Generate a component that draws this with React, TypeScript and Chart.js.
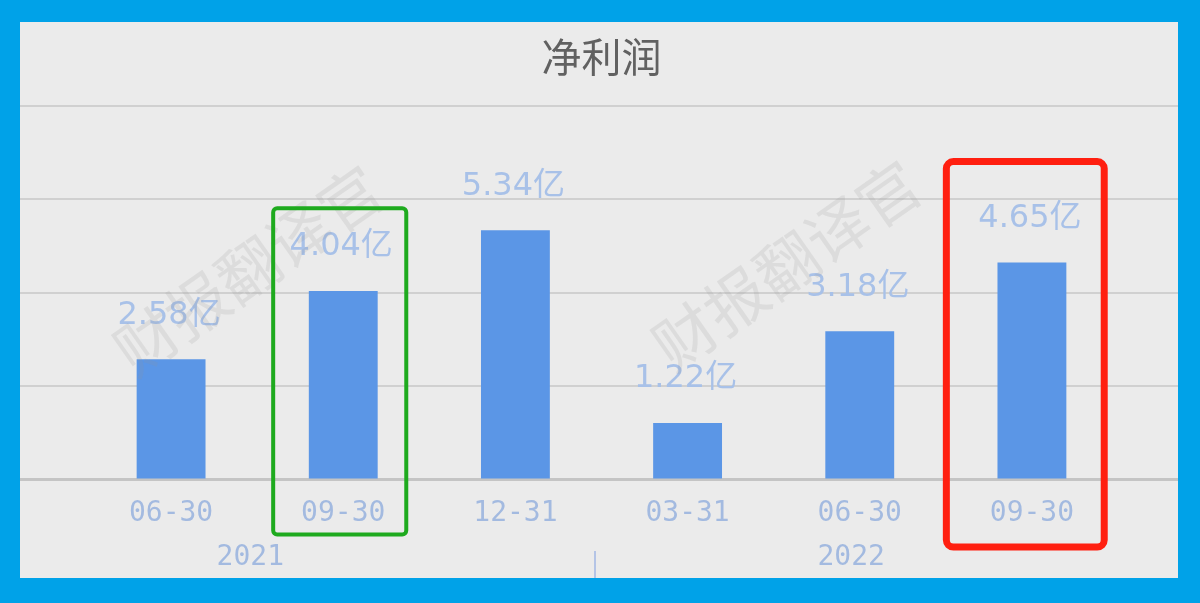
import React, { useEffect, useRef } from "react";
import { Chart, registerables } from "chart.js";

Chart.register(...registerables);

// ---- data ----
const categories = ["06-30", "09-30", "12-31", "03-31", "06-30", "09-30"];
const netProfit = [2.58, 4.04, 5.34, 1.22, 3.18, 4.65]; // 单位：亿
const unit = "亿";
const yearLabels = ["2021", "2022"];
const yearAnchors = [0.46, 3.95]; // category-index anchors for the year row
const yearDivider = 2.46;
const chartTitle = "净利润";
const watermarkText = "财报翻译官";
const yMin = 0;
const yMax = 8;
const yStep = 2;

// ---- styles ----
const FRAME = "#00a2e8";
const PANEL = "#ebebeb";
const BAR = "#5b96e6";
const LABEL = "#a8c1e8";
const TICK = "#a3bae0";
const GRID = "#d0d0d0";
const BASE = "#c4c4c4";

const highlights = [
  { index: 1, color: "#1eaa1e", lw: 4, left: -0.407, right: 0.366, top: 5.81, bottom: -1.17, r: 4 },
  { index: 5, color: "#ff1f10", lw: 7, left: -0.497, right: 0.42, top: 6.81, bottom: -1.435, r: 7 },
];

const overlayPlugin = {
  id: "overlay",
  afterDatasetsDraw(chart: any) {
    const { ctx, chartArea } = chart;
    const xs = chart.scales.x;
    const meta = chart.getDatasetMeta(0);
    ctx.save();
    // value labels
    ctx.font = '32px "DejaVu Sans", "Noto Sans CJK SC"';
    ctx.fillStyle = LABEL;
    ctx.textAlign = "center";
    ctx.textBaseline = "middle";
    meta.data.forEach((bar: any, i: number) => {
      ctx.fillText(netProfit[i].toFixed(2) + unit, bar.x - 2, bar.y - 44);
    });
    // year row
    ctx.font = '28px "DejaVu Sans Mono"';
    ctx.fillStyle = TICK;
    yearLabels.forEach((t, i) => {
      ctx.fillText(t, xs.getPixelForValue(yearAnchors[i]), chartArea.bottom + 78);
    });
    // divider
    const dx = Math.round(xs.getPixelForValue(yearDivider));
    ctx.strokeStyle = "#b4c4e6";
    ctx.lineWidth = 2;
    ctx.beginPath();
    ctx.moveTo(dx, chartArea.bottom + 71);
    ctx.lineTo(dx, chart.height);
    ctx.stroke();
    ctx.restore();
  },
  afterDraw(chart: any) {
    const { ctx, width, height } = chart;
    const xs = chart.scales.x;
    const ys = chart.scales.y;
    ctx.save();
    // watermark
    ctx.font = '62px "Noto Sans CJK SC"';
    ctx.fillStyle = "rgba(150,150,150,0.17)";
    ctx.textAlign = "center";
    ctx.textBaseline = "middle";
    const spots = [
      [0.197, 0.446],
      [0.662, 0.437],
    ];
    spots.forEach(([fx, fy]) => {
      ctx.save();
      ctx.translate(fx * width, fy * height);
      ctx.rotate((-35 * Math.PI) / 180);
      ctx.fillText(watermarkText, 0, 0);
      ctx.restore();
    });
    // highlight boxes
    highlights.forEach((h) => {
      const x1 = xs.getPixelForValue(h.index + h.left);
      const x2 = xs.getPixelForValue(h.index + h.right);
      const y1 = ys.getPixelForValue(h.top);
      const y2 = ys.getPixelForValue(h.bottom);
      ctx.strokeStyle = h.color;
      ctx.lineWidth = h.lw;
      ctx.lineJoin = "round";
      ctx.beginPath();
      if (ctx.roundRect) ctx.roundRect(x1, y1, x2 - x1, y2 - y1, h.r);
      else ctx.rect(x1, y1, x2 - x1, y2 - y1);
      ctx.stroke();
    });
    ctx.restore();
  },
};

export default function App() {
  const ref = useRef<HTMLCanvasElement | null>(null);

  useEffect(() => {
    document.body.style.margin = "0";
    const canvas = ref.current;
    if (!canvas) return;
    const gridColor = (c: any) => (c.tick && c.tick.value === 0 ? BASE : GRID);
    const gridWidth = (c: any) => (c.tick && c.tick.value === 0 ? 3 : 2);
    const chart = new Chart(canvas, {
      type: "bar",
      data: {
        labels: categories,
        datasets: [
          {
            data: netProfit,
            backgroundColor: BAR,
            borderWidth: 0,
            barPercentage: 0.4,
            categoryPercentage: 1,
          },
        ],
      },
      options: {
        responsive: false,
        animation: false,
        devicePixelRatio: 1,
        layout: { padding: { left: 0, right: 0, top: 0, bottom: 29.5 } },
        plugins: {
          legend: { display: false },
          tooltip: { enabled: false },
          title: {
            display: true,
            fullSize: false,
            text: chartTitle,
            color: "#616161",
            font: { family: '"Noto Sans CJK SC"', size: 40, weight: "normal", lineHeight: 1.2 },
            padding: { top: 11, bottom: 25 },
          },
        },
        scales: {
          x: {
            grid: { display: false, drawTicks: false },
            border: { display: false },
            ticks: {
              color: TICK,
              font: { family: '"DejaVu Sans Mono"', size: 28, lineHeight: 1.2 },
              padding: 17.5,
              maxRotation: 0,
              autoSkip: false,
            },
          },
          y: {
            position: "left",
            min: yMin,
            max: yMax,
            ticks: { display: false, stepSize: yStep },
            border: { display: false },
            grid: { drawTicks: true, tickLength: 65, color: gridColor, lineWidth: gridWidth },
          },
          y2: {
            position: "right",
            min: yMin,
            max: yMax,
            ticks: { display: false, stepSize: yStep },
            border: { display: false },
            grid: {
              drawOnChartArea: false,
              drawTicks: true,
              tickLength: 60,
              color: gridColor,
              lineWidth: gridWidth,
            },
          },
        },
      },
      plugins: [overlayPlugin],
    } as any);
    return () => chart.destroy();
  }, []);

  return (
    <div
      style={{
        position: "fixed",
        left: 0,
        top: 0,
        width: 1200,
        height: 603,
        background: FRAME,
      }}
    >
      <div
        style={{
          position: "absolute",
          left: 20,
          top: 22,
          width: 1158,
          height: 556,
          background: PANEL,
        }}
      >
        <canvas ref={ref} width={1158} height={556} style={{ display: "block" }} />
      </div>
    </div>
  );
}
